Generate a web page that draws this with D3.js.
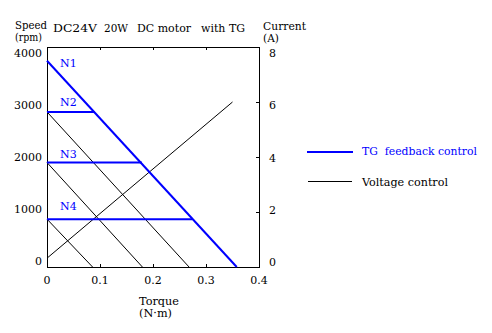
<!DOCTYPE html>
<html><head><meta charset="utf-8">
<script src="https://cdn.jsdelivr.net/npm/d3@7"></script>
<style>
html,body{margin:0;padding:0;background:#fff;}
svg text{font-family:"DejaVu Serif",serif;font-size:11px;}
</style></head>
<body><svg id="c" width="492" height="333"></svg>
<script>
// ---- data ----
const torqueTicks = [0, 0.1, 0.2, 0.3, 0.4];
const speedTicks = [0, 1000, 2000, 3000, 4000];
const currentTicks = [0, 2, 4, 6, 8];
const nLabels = ["N1", "N2", "N3", "N4"];
const nLabelSpeeds = [3640, 2930, 1990, 1040]; // rpm at which each N label sits
const tgSpeeds = [2820, 1900, 870];          // rpm, constant-speed levels (N2..N4)
const tgEndTorque = [0.090, 0.179, 0.274];   // N·m where TG level meets N1 line
const n1Speed = [3750, 0];                   // rpm
const n1Torque = [0, 0.358];                 // N·m
const vcStartSpeed = [2820, 1900, 870];      // rpm at no load
const vcStallTorque = [0.268, 0.180, 0.086]; // N·m at zero speed
const currentTorque = [0, 0.35];             // N·m
const currentAmps = [0.32, 6.0];             // A

const blue = "#0000ff";
const svg = d3.select("#c");
const x = d3.scaleLinear([0, 0.4], [47, 259]);
const y = d3.scaleLinear([0, 4000], [267, 47]);
const yR = d3.scaleLinear([0, 8], [267, 47]);
const yLab = d3.scaleLinear([0, 4000], [261, 53]);   // label placement
const yRLab = d3.scaleLinear([0, 8], [262, 53]);

function txt(t, px, py, len, color) {
  const e = svg.append("text").attr("x", px).attr("y", py).attr("xml:space", "preserve").text(t);
  if (len) e.attr("textLength", len).attr("lengthAdjust", "spacingAndGlyphs");
  if (color) e.attr("fill", color);
  return e;
}

// frame
svg.append("rect").attr("x", x(0)).attr("y", y(4000)).attr("width", x(0.4) - x(0))
  .attr("height", y(0) - y(4000)).attr("fill", "none").attr("stroke", "#000")
  .attr("shape-rendering", "crispEdges");

// inner ticks
const inner = torqueTicks.slice(1, -1);
svg.selectAll(".tt").data(inner).join("line").attr("x1", d => x(d)).attr("x2", d => x(d))
  .attr("y1", y(4000)).attr("y2", y(4000) + 3).attr("stroke", "#000").attr("shape-rendering", "crispEdges");
svg.selectAll(".tb").data(inner).join("line").attr("x1", d => x(d)).attr("x2", d => x(d))
  .attr("y1", y(0)).attr("y2", y(0) - 3).attr("stroke", "#000").attr("shape-rendering", "crispEdges");
svg.selectAll(".tr").data(currentTicks.slice(1, -1)).join("line").attr("x1", x(0.4)).attr("x2", x(0.4) - 3)
  .attr("y1", d => yR(d)).attr("y2", d => yR(d)).attr("stroke", "#000").attr("shape-rendering", "crispEdges");

// tick labels
svg.selectAll(".xl").data(torqueTicks).join("text").attr("x", d => x(d)).attr("y", 284)
  .attr("text-anchor", "middle").text(d => d === 0 ? "0" : d3.format(".1f")(d));
svg.selectAll(".yl").data(speedTicks).join("text").attr("x", 42).attr("y", d => yLab(d) + 4)
  .attr("text-anchor", "end").text(d => d);
svg.selectAll(".rl").data(currentTicks).join("text").attr("x", 269).attr("y", d => yRLab(d) + 4)
  .text(d => d);

// axis titles
txt("Speed", 15, 29, 32);
txt("(rpm)", 15, 41, 27);
txt("Current", 263, 30, 43);
txt("(A)", 263, 42, 16);
txt("Torque", 139, 305, 40);
txt("(N\u00b7m)", 139, 317, 33);
txt("DC24V", 53, 32, 44);
txt("20W", 104, 32, 24);
txt("DC motor", 137, 32, 54);
txt("with TG", 201, 32, 44);

// voltage control lines (black)
const line = d3.line().x(d => x(d[0])).y(d => d[2] ? yR(d[1]) : y(d[1]));
vcStartSpeed.forEach((s, i) => {
  svg.append("path").attr("d", line([[0, s], [vcStallTorque[i], 0]]))
    .attr("stroke", "#000").attr("fill", "none").attr("stroke-width", 1);
});
svg.append("path").attr("d", line([[currentTorque[0], currentAmps[0], 1], [currentTorque[1], currentAmps[1], 1]]))
  .attr("stroke", "#000").attr("fill", "none").attr("stroke-width", 1);

// TG feedback lines (blue)
svg.append("path").attr("d", line([[n1Torque[0], n1Speed[0]], [n1Torque[1], n1Speed[1]]]))
  .attr("stroke", blue).attr("fill", "none").attr("stroke-width", 2);
tgSpeeds.forEach((s, i) => {
  svg.append("path").attr("d", line([[0, s], [tgEndTorque[i], s]]))
    .attr("stroke", blue).attr("fill", "none").attr("stroke-width", 2);
});

// N labels
nLabels.forEach((t, i) => txt(t, 60, y(nLabelSpeeds[i]), null, blue));

// legend
svg.append("line").attr("x1", 307).attr("x2", 353).attr("y1", 152).attr("y2", 152)
  .attr("stroke", blue).attr("stroke-width", 2).attr("shape-rendering", "crispEdges");
txt("TG  feedback control", 362, 155, 115, blue);
svg.append("line").attr("x1", 308).attr("x2", 352).attr("y1", 181).attr("y2", 181)
  .attr("stroke", "#000").attr("stroke-width", 1).attr("shape-rendering", "crispEdges");
txt("Voltage control", 362, 186, 86);
</script></body></html>
